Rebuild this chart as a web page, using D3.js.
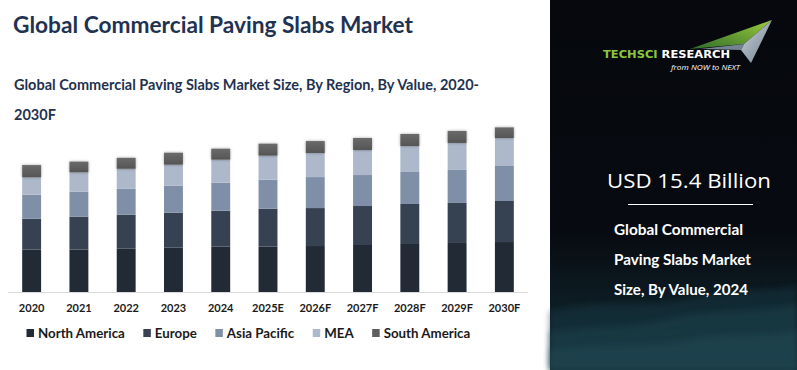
<!DOCTYPE html>
<html>
<head>
<meta charset="utf-8">
<script src="https://cdn.jsdelivr.net/npm/d3@7"></script>
<style>
  html, body { margin: 0; padding: 0; background: #ffffff; }
  svg { display: block; }
</style>
</head>
<body>
<svg id="chart" width="797" height="370"></svg>
<script>
// ---- data (USD Billion) ----
const years = ["2020","2021","2022","2023","2024","2025E","2026F","2027F","2028F","2029F","2030F"];
const regions = ["North America","Europe","Asia Pacific","MEA","South America"];
const northAmerica = [4.55, 4.55, 4.65, 4.76, 4.87, 4.87, 4.94, 5.05, 5.16, 5.27, 5.37];
const europe       = [3.33, 3.55, 3.65, 3.76, 3.87, 4.08, 4.08, 4.19, 4.30, 4.30, 4.41];
const asiaPacific  = [2.58, 2.69, 2.79, 2.90, 3.01, 3.12, 3.33, 3.33, 3.44, 3.55, 3.76];
const mea          = [1.86, 2.07, 2.15, 2.26, 2.47, 2.58, 2.58, 2.69, 2.79, 2.90, 3.01];
const southAmerica = [1.32, 1.15, 1.18, 1.29, 1.18, 1.29, 1.29, 1.29, 1.29, 1.29, 1.14];
const colors = ["#222a36", "#364152", "#7f8fa8", "#adb8cb", "#5e5e5e"];

const title = "Global Commercial Paving Slabs Market";
const subtitleLines = ["Global Commercial Paving Slabs Market Size, By Region, By Value, 2020-", "2030F"];
const headline = "USD 15.4 Billion";
const sideLines = ["Global Commercial", "Paving Slabs Market", "Size, By Value, 2024"];
const sideWidths = [129, 137, 134];

const table = years.map((yr, i) => ({
  year: yr,
  "North America": northAmerica[i],
  "Europe": europe[i],
  "Asia Pacific": asiaPacific[i],
  "MEA": mea[i],
  "South America": southAmerica[i]
}));

const svg = d3.select("#chart");
const defs = svg.append("defs");

// ---- right panel ----
const bg = defs.append("linearGradient").attr("id", "panelBg").attr("x1", 0).attr("y1", 0).attr("x2", 0).attr("y2", 1);
bg.append("stop").attr("offset", "0%").attr("stop-color", "#06080d");
bg.append("stop").attr("offset", "62%").attr("stop-color", "#070a10");
bg.append("stop").attr("offset", "82%").attr("stop-color", "#0d1c23");
bg.append("stop").attr("offset", "100%").attr("stop-color", "#163640");

const blur = defs.append("filter").attr("id", "waveBlur").attr("x", "-10%").attr("y", "-50%").attr("width", "120%").attr("height", "200%");
blur.append("feGaussianBlur").attr("stdDeviation", 3);

const panel = svg.append("g");
panel.append("rect").attr("x", 550).attr("y", 0).attr("width", 247).attr("height", 370).attr("fill", "url(#panelBg)");
const waves = [
  {d: "M550,312 C600,296 640,310 690,298 C730,288 770,292 797,286 L797,370 L550,370 Z", c: "#163440", o: 0.55},
  {d: "M550,332 C590,325 630,330 670,318 C710,308 750,314 797,304 L797,370 L550,370 Z", c: "#1c3f48", o: 0.55},
  {d: "M550,350 C600,343 640,350 690,340 C730,332 770,338 797,330 L797,370 L550,370 Z", c: "#214a54", o: 0.5}
];
panel.selectAll("path.wave").data(waves).join("path")
  .attr("class", "wave").attr("d", d => d.d).attr("fill", d => d.c).attr("opacity", d => d.o)
  .attr("filter", "url(#waveBlur)");

// logo
const g1 = defs.append("linearGradient").attr("id", "logoGreen").attr("x1", 0).attr("y1", 1).attr("x2", 1).attr("y2", 0);
g1.append("stop").attr("offset", "0%").attr("stop-color", "#2f6b2a");
g1.append("stop").attr("offset", "100%").attr("stop-color", "#9ccc3c");
const g2 = defs.append("linearGradient").attr("id", "logoGrey").attr("x1", 0).attr("y1", 0).attr("x2", 1).attr("y2", 1);
g2.append("stop").attr("offset", "0%").attr("stop-color", "#c9d3dc");
g2.append("stop").attr("offset", "100%").attr("stop-color", "#6f7f8e");
panel.append("path").attr("d", "M690,49 L772,20 L744,44 Z").attr("fill", "url(#logoGreen)");
panel.append("path").attr("d", "M744,44 L772,20 L751,63 L741,50 Z").attr("fill", "url(#logoGrey)");
panel.append("path").attr("d", "M700,49 L744,44 L741,50 Z").attr("fill", "#8fa3b4").attr("opacity", 0.8);

const logo = panel.append("text").attr("x", 603).attr("y", 58)
  .attr("font-family", "'DejaVu Sans', sans-serif").attr("font-weight", "bold").attr("font-size", 11)
  .attr("textLength", 127).attr("lengthAdjust", "spacingAndGlyphs");
logo.append("tspan").attr("fill", "#8cc63f").text("TECHSCI");
logo.append("tspan").attr("fill", "#ffffff").text(" RESEARCH");
panel.append("text").attr("x", 671).attr("y", 70)
  .attr("font-family", "'Open Sans', sans-serif").attr("font-style", "italic").attr("font-size", 8)
  .attr("fill", "#ffffff").attr("textLength", 69).attr("lengthAdjust", "spacingAndGlyphs")
  .text("from NOW to NEXT");

panel.append("text").attr("x", 607).attr("y", 188)
  .attr("font-family", "'Open Sans', sans-serif").attr("font-size", 20).attr("fill", "#ffffff")
  .attr("textLength", 164).attr("lengthAdjust", "spacingAndGlyphs").text(headline);
panel.append("line").attr("x1", 628).attr("x2", 753).attr("y1", 204.5).attr("y2", 204.5)
  .attr("stroke", "#ffffff").attr("stroke-width", 1);
panel.selectAll("text.side").data(sideLines).join("text")
  .attr("class", "side").attr("x", 614).attr("y", (d, i) => 235 + i * 30)
  .attr("font-family", "Lato, sans-serif").attr("font-weight", "bold").attr("font-size", 15)
  .attr("textLength", (d, i) => sideWidths[i]).attr("lengthAdjust", "spacingAndGlyphs")
  .attr("fill", "#ffffff").text(d => d);

// ---- titles ----
svg.append("text").attr("x", 13).attr("y", 33)
  .attr("font-family", "Lato, sans-serif").attr("font-weight", "bold").attr("font-size", 23)
  .attr("fill", "#1f3251").attr("textLength", 400).attr("lengthAdjust", "spacingAndGlyphs").text(title);
svg.selectAll("text.sub").data(subtitleLines).join("text")
  .attr("class", "sub").attr("x", 14).attr("y", (d, i) => 90 + i * 30)
  .attr("font-family", "Lato, sans-serif").attr("font-weight", "bold").attr("font-size", 14.5)
  .attr("fill", "#1f3251").text(d => d);

// ---- chart ----
const baseY = 292;
const x = d3.scaleBand().domain(years).range([8, 528]).paddingInner(0.6).paddingOuter(0.3);
const y = d3.scaleLinear().domain([0, 15.4]).range([baseY, baseY - 143.3]);

const stack = d3.stack().keys(regions);
const series = stack(table);

const shadow = defs.append("filter").attr("id", "soft").attr("x", "-30%").attr("y", "-60%").attr("width", "160%").attr("height", "220%");
shadow.append("feGaussianBlur").attr("in", "SourceAlpha").attr("stdDeviation", 1.5).attr("result", "b");
shadow.append("feComponentTransfer").attr("in", "b").attr("result", "s")
  .append("feFuncA").attr("type", "linear").attr("slope", 0.35);
const merge = shadow.append("feMerge");
merge.append("feMergeNode").attr("in", "s");
merge.append("feMergeNode").attr("in", "SourceGraphic");

const saGrad = defs.append("linearGradient").attr("id", "saGrad").attr("x1", 0).attr("y1", 0).attr("x2", 0).attr("y2", 1);
saGrad.append("stop").attr("offset", "0%").attr("stop-color", "#6a6a6a");
saGrad.append("stop").attr("offset", "100%").attr("stop-color", "#555555");

const layers = svg.append("g").selectAll("g.layer").data(series).join("g")
  .attr("class", "layer")
  .attr("fill", (d, i) => i === 4 ? "url(#saGrad)" : colors[i])
  .attr("filter", (d, i) => i === 4 ? "url(#soft)" : null);
layers.selectAll("rect").data(d => d).join("rect")
  .attr("x", d => x(d.data.year))
  .attr("width", x.bandwidth())
  .attr("y", d => y(d[1]))
  .attr("height", d => y(d[0]) - y(d[1]));

// x axis
const xAxis = svg.append("g").attr("transform", `translate(0,${baseY})`)
  .call(d3.axisBottom(x).tickSize(0).tickPadding(12));
xAxis.select(".domain").attr("stroke", "#d9d9d9").attr("stroke-width", 1)
  .attr("d", "M8,0.5H528");
xAxis.selectAll("text")
  .attr("font-family", "Lato, sans-serif").attr("font-weight", "bold").attr("font-size", 11)
  .attr("fill", "#1a1a1a");

// legend
const legend = svg.append("g").attr("transform", "translate(26.5,337.5)");
let lx = 0;
regions.forEach((r, i) => {
  const item = legend.append("g").attr("transform", `translate(${lx},0)`);
  item.append("rect").attr("x", 0).attr("y", -8.5).attr("width", 7.5).attr("height", 8)
    .attr("fill", colors[i]);
  const t = item.append("text").attr("x", 11.5).attr("y", 0)
    .attr("font-family", "Lato, sans-serif").attr("font-weight", "bold").attr("font-size", 13.3)
    .attr("fill", "#1a1a1a").text(r);
  lx += 11.5 + t.node().getComputedTextLength() + 18.5;
});
</script>
</body>
</html>
